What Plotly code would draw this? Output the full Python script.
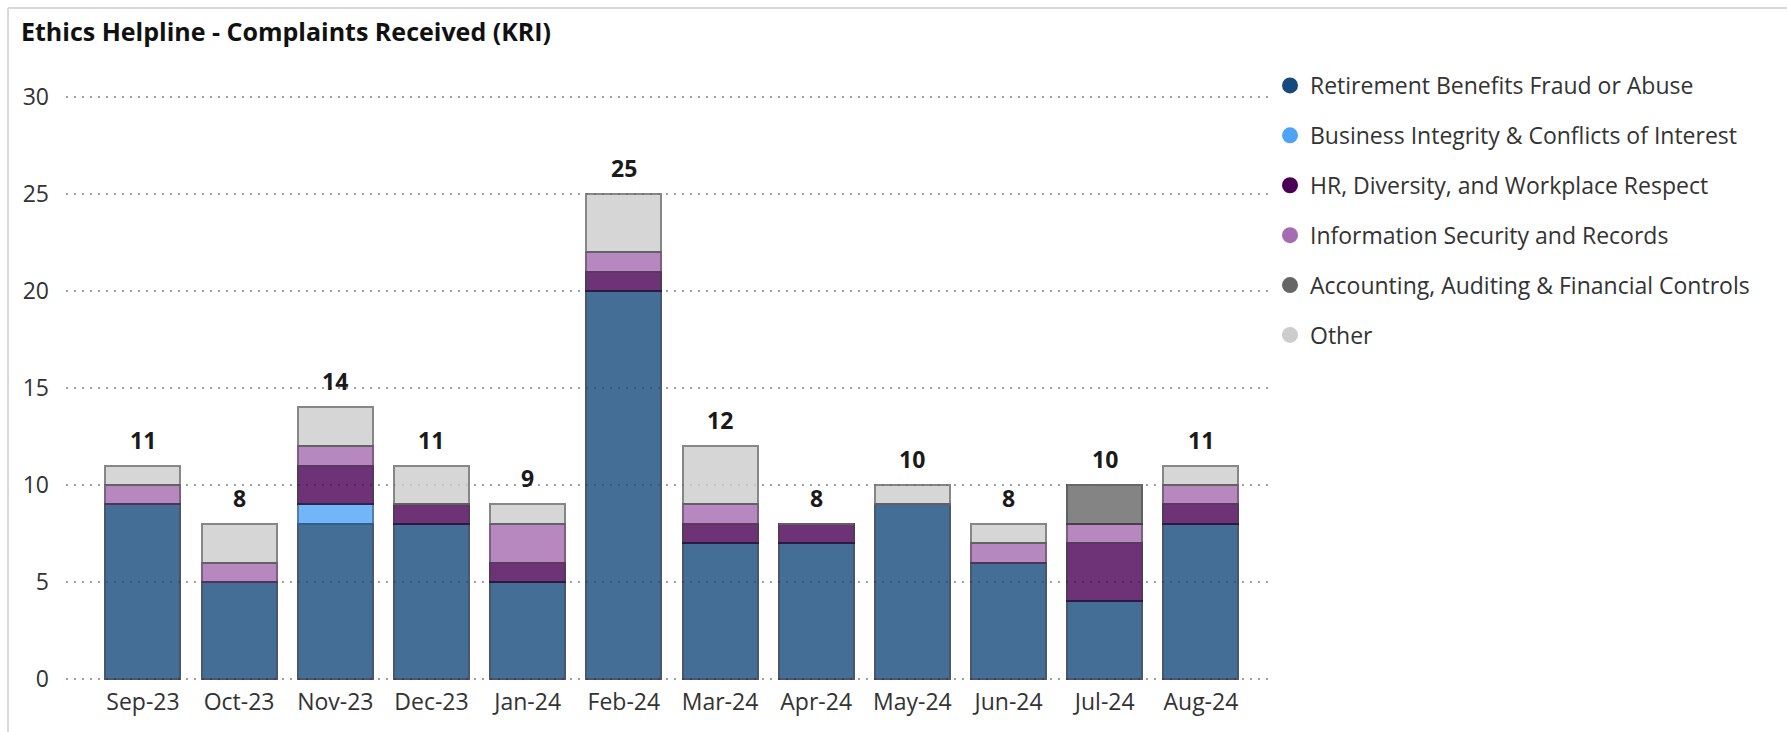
import plotly.graph_objects as go

months = ["Sep-23", "Oct-23", "Nov-23", "Dec-23", "Jan-24", "Feb-24",
          "Mar-24", "Apr-24", "May-24", "Jun-24", "Jul-24", "Aug-24"]

retirement = [9, 5, 8, 8, 5, 20, 7, 7, 9, 6, 4, 8]
business = [0, 0, 1, 0, 0, 0, 0, 0, 0, 0, 0, 0]
hr = [0, 0, 2, 1, 1, 1, 1, 1, 0, 0, 3, 1]
infosec = [1, 1, 1, 0, 2, 1, 1, 0, 0, 1, 1, 1]
accounting = [0, 0, 0, 0, 0, 0, 0, 0, 0, 0, 2, 0]
other = [1, 2, 2, 2, 1, 3, 3, 0, 1, 1, 0, 1]

series_names = ["Retirement Benefits Fraud or Abuse",
                "Business Integrity & Conflicts of Interest",
                "HR, Diversity, and Workplace Respect",
                "Information Security and Records",
                "Accounting, Auditing & Financial Controls",
                "Other"]
series_values = [retirement, business, hr, infosec, accounting, other]
series_colors = ["#174A7C", "#4FA3F7", "#4B0055", "#A66BB0", "#666666", "#CCCCCC"]
outline_colors = ["#1c2e48", "#2f5f90", "#2a0a30", "#5a3a60", "#3a3a3a", "#6a6a6a"]

totals = [sum(v) for v in zip(*series_values)]

W, H = 1787, 732
L, R, T, B = 66, 513, 94, 50
PW, PH = W - L - R, H - T - B
FONT = "Open Sans, Segoe UI, sans-serif"
FS = 23

fig = go.Figure()

for name, vals, col, lc in zip(series_names, series_values, series_colors, outline_colors):
    fig.add_trace(go.Bar(
        x=months, y=vals, name=name, showlegend=False,
        marker=dict(color=col, opacity=0.8,
                    line=dict(color=lc, width=2)),
        hoverinfo="x+y+name",
    ))

# legend entries with circular markers
for name, col in zip(series_names, series_colors):
    fig.add_trace(go.Scatter(
        x=[None], y=[None], mode="markers", name=name,
        legendgroup=name,
        marker=dict(symbol="circle", size=17, color=col),
    ))

for m, t in zip(months, totals):
    fig.add_annotation(x=m, y=t, text="<b>%d</b>" % t, showarrow=False,
                       yanchor="middle", yshift=26,
                       font=dict(family=FONT, size=FS, color="#1a1a1a"))

def px_x(p):
    return (p - L) / PW

def px_y(p):
    return 1 - (p - T) / PH

# frame lines (top and left)
fig.add_shape(type="line", xref="paper", yref="paper",
              x0=px_x(8), x1=px_x(W + 5), y0=px_y(8), y1=px_y(8),
              line=dict(color="#d9d9d9", width=2))
fig.add_shape(type="line", xref="paper", yref="paper",
              x0=px_x(8), x1=px_x(8), y0=px_y(8), y1=px_y(H + 5),
              line=dict(color="#d9d9d9", width=2))

fig.update_layout(
    width=W, height=H,
    margin=dict(l=L, r=R, t=T, b=B, pad=0),
    barmode="stack", bargap=0.22,
    plot_bgcolor="white", paper_bgcolor="white",
    font=dict(family=FONT, size=FS, color="#333333"),
    title=dict(text="<b>Ethics Helpline - Complaints Received (KRI)</b>",
               x=21 / W, xanchor="left", xref="container",
               y=1 - 32 / H, yanchor="middle", yref="container",
               font=dict(family=FONT, size=25, color="#111111")),
    legend=dict(x=px_x(1270), xanchor="left", y=px_y(64), yanchor="top",
                font=dict(family=FONT, size=FS, color="#333333"),
                tracegroupgap=17, itemwidth=30, bgcolor="rgba(0,0,0,0)"),
    xaxis=dict(type="category", range=[-0.8, 11.76], showgrid=False,
               zeroline=False, showline=False, ticks="",
               ticklabelstandoff=4,
               tickfont=dict(family=FONT, size=FS, color="#333333")),
    yaxis=dict(range=[-0.155, 30.155], tickvals=[0, 5, 10, 15, 20, 25, 30],
               showgrid=True, gridcolor="#a0a0a0", griddash="2px,6px",
               gridwidth=2, zeroline=False, showline=False, ticks="",
               ticklabelstandoff=16,
               tickfont=dict(family=FONT, size=FS, color="#333333")),
)

fig.write_html("out.html", config={"displayModeBar": False},
               post_script="document.body.style.margin='0';")
